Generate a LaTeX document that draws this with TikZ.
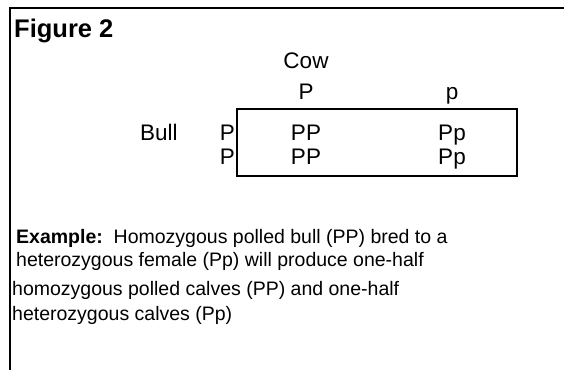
\documentclass[tikz,border=0pt]{standalone}
\usepackage{fontspec}
\setmainfont{Liberation Sans}
\begin{document}
\begin{tikzpicture}[x=1pt,y=-1pt,
    cell/.style={anchor=base, inner sep=0pt, font=\fontsize{22.5}{24}\selectfont},
    note/.style={anchor=base west, inner sep=0pt, font=\fontsize{19.5}{22}\selectfont}]
    \useasboundingbox (0,0) rectangle (564,370);
    % Frame
    \draw[line width=2pt] (564,8) -- (10,8) -- (10,370);
    \node[anchor=base west, inner sep=0pt, font=\fontsize{25.5}{27}\selectfont\bfseries] (title) at (14,37) {Figure 2};

    % Cow gametes
    \node[cell] (cow) at (306,68) {Cow};
    \node[cell] (cowP) at (306,99) {P};
    \node[cell] (cowp) at (452,99) {p};

    % Bull gametes
    \node[cell, anchor=base west] (bull) at (140,140) {Bull};
    \node[cell, anchor=base east] (bullP1) at (235,140) {P};
    \node[cell, anchor=base east] (bullP2) at (235,164) {P};

    % Square
    \draw[line width=1.6pt] (237,109) rectangle (517,176);
    \node[cell] (pp11) at (306,140) {PP};
    \node[cell] (pp12) at (452,140) {Pp};
    \node[cell] (pp21) at (306,164) {PP};
    \node[cell] (pp22) at (452,164) {Pp};

    % Example
    \node[note] (ex1) at (16,243) {\textbf{Example:}\ \ Homozygous polled bull (PP) bred to a};
    \node[note] (ex2) at (16,266) {heterozygous female (Pp) will produce one-half};
    \node[note] (ex3) at (12,295) {homozygous polled calves (PP) and one-half};
    \node[note] (ex4) at (12,320) {heterozygous calves (Pp)};
\end{tikzpicture}
\end{document}
